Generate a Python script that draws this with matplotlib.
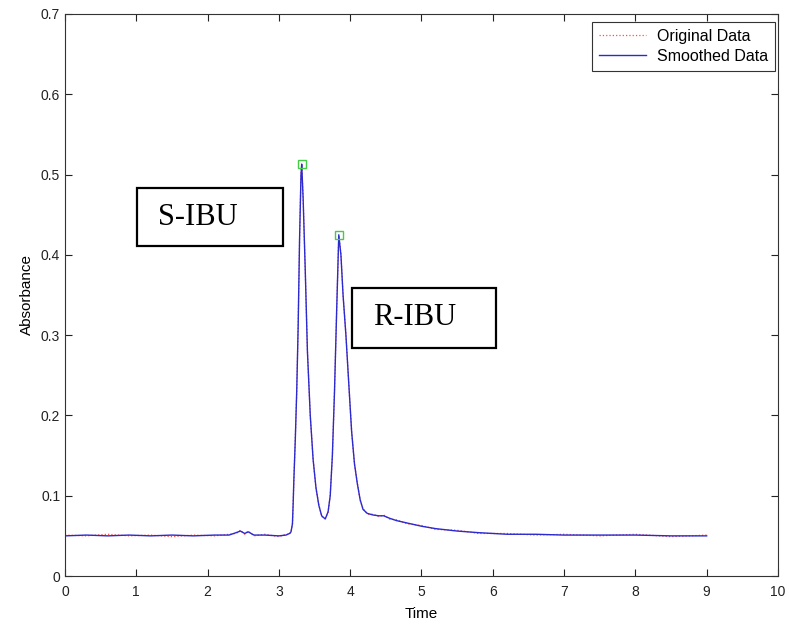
import matplotlib
matplotlib.use("Agg")
import matplotlib.pyplot as plt
from matplotlib.patches import Rectangle

# retention time (min) and absorbance
time = [0.0, 0.3, 0.6, 0.9, 1.2, 1.5, 1.8, 2.1, 2.3, 2.4, 2.46, 2.52, 2.57,
        2.65, 2.8, 3.0, 3.1, 3.15, 3.17, 3.19, 3.20, 3.21, 3.23, 3.25, 3.27,
        3.29, 3.31, 3.32, 3.34, 3.37, 3.40, 3.44, 3.48, 3.52, 3.56, 3.60, 3.65,
        3.69, 3.72, 3.75, 3.78, 3.81, 3.84, 3.87, 3.90, 3.94, 3.98, 4.02, 4.06,
        4.10, 4.14, 4.18, 4.24, 4.32, 4.40, 4.47, 4.55, 4.65, 4.8, 5.0, 5.2,
        5.5, 5.8, 6.2, 6.6, 7.0, 7.5, 8.0, 8.5, 9.0]
smoothed = [0.050, 0.051, 0.050, 0.051, 0.050, 0.051, 0.050, 0.051, 0.051,
            0.054, 0.056, 0.053, 0.055, 0.051, 0.051, 0.050, 0.051, 0.053,
            0.055, 0.065, 0.090, 0.120, 0.170, 0.230, 0.310, 0.420, 0.500,
            0.513, 0.470, 0.380, 0.280, 0.200, 0.145, 0.110, 0.088, 0.075,
            0.071, 0.080, 0.100, 0.150, 0.230, 0.330, 0.425, 0.400, 0.350,
            0.300, 0.240, 0.180, 0.140, 0.115, 0.095, 0.083, 0.078, 0.076,
            0.075, 0.075, 0.072, 0.069, 0.066, 0.062, 0.059, 0.056, 0.054,
            0.052, 0.052, 0.051, 0.051, 0.051, 0.050, 0.050]
original = [0.051, 0.050, 0.052, 0.050, 0.051, 0.049, 0.051, 0.050, 0.052,
            0.053, 0.057, 0.052, 0.056, 0.050, 0.052, 0.049, 0.052, 0.052,
            0.056, 0.064, 0.091, 0.119, 0.171, 0.229, 0.311, 0.419, 0.501,
            0.512, 0.471, 0.379, 0.281, 0.199, 0.146, 0.109, 0.089, 0.074,
            0.072, 0.079, 0.101, 0.149, 0.231, 0.329, 0.424, 0.401, 0.349,
            0.301, 0.239, 0.181, 0.139, 0.116, 0.094, 0.084, 0.077, 0.077,
            0.074, 0.076, 0.071, 0.070, 0.065, 0.063, 0.058, 0.057, 0.053,
            0.053, 0.051, 0.052, 0.050, 0.052, 0.049, 0.051]

peak_time = [3.32, 3.84]
peak_abs = [0.513, 0.425]

x_ticks = list(range(0, 11))
y_ticks = [0, 0.1, 0.2, 0.3, 0.4, 0.5, 0.6, 0.7]
y_tick_labels = ["0", "0.1", "0.2", "0.3", "0.4", "0.5", "0.6", "0.7"]

plt.rcParams["font.family"] = ["Liberation Sans", "DejaVu Sans"]

fig = plt.figure(figsize=(7.89, 6.24), dpi=100)
ax = fig.add_axes([0.0824, 0.0769, 0.9036, 0.9007])

ax.plot(time, original, color="#ff4d4d", linestyle=":", linewidth=0.9,
        label="Original Data")
ax.plot(time, smoothed, color="#2a2ad0", linewidth=1.0,
        label="Smoothed Data")
ax.plot(peak_time, peak_abs, linestyle="none", marker="s", markersize=6,
        markerfacecolor="none", markeredgecolor="#44cc44", markeredgewidth=1)

ax.set_xlim(0, 10)
ax.set_ylim(0, 0.7)
ax.set_xticks(x_ticks)
ax.set_yticks(y_ticks)
ax.set_yticklabels(y_tick_labels)
ax.tick_params(direction="in", length=5, top=True, right=True,
               labelsize=10, colors="#222222")
ax.tick_params(axis="x", pad=6.5)
for spine in ax.spines.values():
    spine.set_color("#333333")
    spine.set_linewidth(0.8)
ax.set_xlabel("Time", fontsize=11, labelpad=6)
ax.set_ylabel("Absorbance", fontsize=11, labelpad=5)

leg = ax.legend(loc="upper right", fontsize=11.5, handlelength=2.9,
                fancybox=False, framealpha=1, borderpad=0.45,
                labelspacing=0.3, handletextpad=0.7, borderaxespad=0,
                bbox_to_anchor=(0.996, 0.986))
leg.get_frame().set_edgecolor("#333333")
leg.get_frame().set_linewidth(0.8)

# annotation boxes for the two enantiomers
ax.add_patch(Rectangle((1.01, 0.411), 2.05, 0.072, fill=False,
                       edgecolor="black", linewidth=1.6, zorder=5))
ax.text(1.865, 0.447, "S-IBU", fontsize=22, family="Liberation Serif",
        ha="center", va="center", zorder=6)
ax.add_patch(Rectangle((4.03, 0.284), 2.01, 0.075, fill=False,
                       edgecolor="black", linewidth=1.6, zorder=5))
ax.text(4.91, 0.322, "R-IBU", fontsize=22, family="Liberation Serif",
        ha="center", va="center", zorder=6)

fig.savefig("out.png", dpi=100)
